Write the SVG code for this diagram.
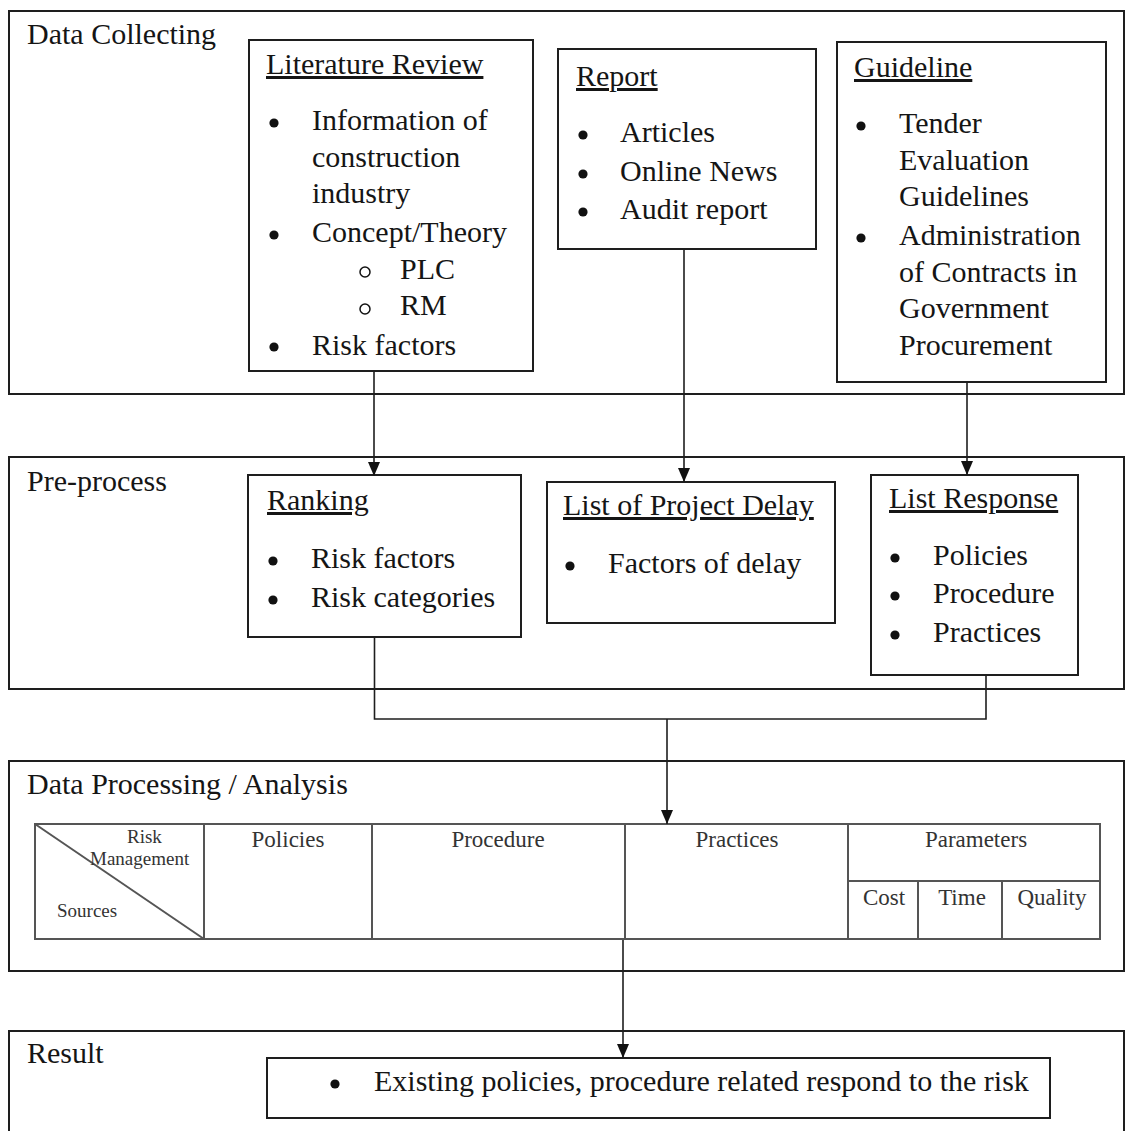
<svg xmlns="http://www.w3.org/2000/svg" width="1131" height="1131" viewBox="0 0 1131 1131">
<style>
.t{font-family:"Liberation Serif","Times New Roman",serif;font-size:30px;fill:#151515}
.u{text-decoration:underline}
.s{font-family:"Liberation Serif","Times New Roman",serif;font-size:23px;fill:#333}
.m{font-family:"Liberation Serif","Times New Roman",serif;font-size:19px;fill:#333}
.box{fill:none;stroke:#1e1e1e;stroke-width:2}
.tl{fill:none;stroke:#555;stroke-width:2}
.c{fill:none;stroke:#1e1e1e;stroke-width:1.6}
.b{fill:#111}
.o{fill:none;stroke:#111;stroke-width:1.5}
</style>
<defs>
<marker id="ah" markerUnits="userSpaceOnUse" markerWidth="14" markerHeight="12" refX="14" refY="6" orient="auto">
<path d="M0,0 L14,6 L0,12 z" fill="#111"/>
</marker>
</defs>
<rect width="1131" height="1131" fill="#fff"/>

<g id="data-collecting">
<rect class="box" x="9" y="11" width="1115" height="383"/>
<text class="t" x="27" y="44">Data Collecting</text>
</g>

<g id="literature-review">
<rect class="box" x="249" y="40" width="284" height="331"/>
<text class="t u" x="266" y="74">Literature Review</text>
<circle class="b" cx="274" cy="123" r="4.6"/>
<text class="t" x="312" y="130">Information of</text>
<text class="t" x="312" y="167">construction</text>
<text class="t" x="312" y="203">industry</text>
<circle class="b" cx="274" cy="235" r="4.6"/>
<text class="t" x="312" y="242">Concept/Theory</text>
<circle class="o" cx="365" cy="272" r="5"/>
<text class="t" x="400" y="279">PLC</text>
<circle class="o" cx="365" cy="309" r="5"/>
<text class="t" x="400" y="315">RM</text>
<circle class="b" cx="274" cy="347" r="4.6"/>
<text class="t" x="312" y="355">Risk factors</text>
</g>

<g id="report">
<rect class="box" x="558" y="49" width="258" height="200"/>
<text class="t u" x="576" y="86">Report</text>
<circle class="b" cx="583" cy="135" r="4.6"/>
<text class="t" x="620" y="142">Articles</text>
<circle class="b" cx="583" cy="174" r="4.6"/>
<text class="t" x="620" y="181">Online News</text>
<circle class="b" cx="583" cy="212" r="4.6"/>
<text class="t" x="620" y="219">Audit report</text>
</g>

<g id="guideline">
<rect class="box" x="837" y="42" width="269" height="340"/>
<text class="t u" x="854" y="77">Guideline</text>
<circle class="b" cx="861" cy="126" r="4.6"/>
<text class="t" x="899" y="133">Tender</text>
<text class="t" x="899" y="170">Evaluation</text>
<text class="t" x="899" y="206">Guidelines</text>
<circle class="b" cx="861" cy="238" r="4.6"/>
<text class="t" x="899" y="245">Administration</text>
<text class="t" x="899" y="282">of Contracts in</text>
<text class="t" x="899" y="318">Government</text>
<text class="t" x="899" y="355">Procurement</text>
</g>

<g id="pre-process">
<rect class="box" x="9" y="457" width="1115" height="232"/>
<text class="t" x="27" y="491">Pre-process</text>
</g>

<g id="ranking">
<rect class="box" x="248" y="475" width="273" height="162"/>
<text class="t u" x="267" y="510">Ranking</text>
<circle class="b" cx="273" cy="561" r="4.6"/>
<text class="t" x="311" y="568">Risk factors</text>
<circle class="b" cx="273" cy="600" r="4.6"/>
<text class="t" x="311" y="607">Risk categories</text>
</g>

<g id="list-project-delay">
<rect class="box" x="547" y="482" width="288" height="141"/>
<text class="t u" x="563" y="515">List of Project Delay</text>
<circle class="b" cx="570" cy="566" r="4.6"/>
<text class="t" x="608" y="573">Factors of delay</text>
</g>

<g id="list-response">
<rect class="box" x="871" y="475" width="207" height="200"/>
<text class="t u" x="889" y="508">List Response</text>
<circle class="b" cx="895" cy="558" r="4.6"/>
<text class="t" x="933" y="565">Policies</text>
<circle class="b" cx="895" cy="596" r="4.6"/>
<text class="t" x="933" y="603">Procedure</text>
<circle class="b" cx="895" cy="635" r="4.6"/>
<text class="t" x="933" y="642">Practices</text>
</g>

<g id="data-processing">
<rect class="box" x="9" y="761" width="1115" height="210"/>
<text class="t" x="27" y="794">Data Processing / Analysis</text>
</g>

<g id="analysis-table">
<rect class="tl" x="35" y="824" width="1065" height="115"/>
<line class="tl" x1="35" y1="824" x2="204" y2="939"/>
<line class="tl" x1="204" y1="824" x2="204" y2="939"/>
<line class="tl" x1="372" y1="824" x2="372" y2="939"/>
<line class="tl" x1="625" y1="824" x2="625" y2="939"/>
<line class="tl" x1="848" y1="824" x2="848" y2="939"/>
<line class="tl" x1="848" y1="881" x2="1100" y2="881"/>
<line class="tl" x1="918" y1="881" x2="918" y2="939"/>
<line class="tl" x1="1002" y1="881" x2="1002" y2="939"/>
<text class="m" x="127" y="843">Risk</text>
<text class="m" x="90" y="865">Management</text>
<text class="m" x="57" y="917">Sources</text>
<text class="s" x="288" y="847" text-anchor="middle">Policies</text>
<text class="s" x="498" y="847" text-anchor="middle">Procedure</text>
<text class="s" x="737" y="847" text-anchor="middle">Practices</text>
<text class="s" x="976" y="847" text-anchor="middle">Parameters</text>
<text class="s" x="884" y="905" text-anchor="middle">Cost</text>
<text class="s" x="962" y="905" text-anchor="middle">Time</text>
<text class="s" x="1052" y="905" text-anchor="middle">Quality</text>
</g>

<g id="result">
<rect class="box" x="9" y="1031" width="1115" height="130"/>
<text class="t" x="27" y="1063">Result</text>
</g>

<g id="result-item">
<rect class="box" x="267" y="1058" width="783" height="60"/>
<circle class="b" cx="335" cy="1084" r="4.6"/>
<text class="t" x="374" y="1091">Existing policies, procedure related respond to the risk</text>
</g>

<g id="connectors">
<path class="c" d="M374,371 V476" marker-end="url(#ah)"/>
<path class="c" d="M684,249 V482" marker-end="url(#ah)"/>
<path class="c" d="M967,382 V475" marker-end="url(#ah)"/>
<path class="c" d="M374.5,637 V719 H986 V675"/>
<path class="c" d="M667,719 V824" marker-end="url(#ah)"/>
<path class="c" d="M623,940 V1058" marker-end="url(#ah)"/>
</g>
</svg>
